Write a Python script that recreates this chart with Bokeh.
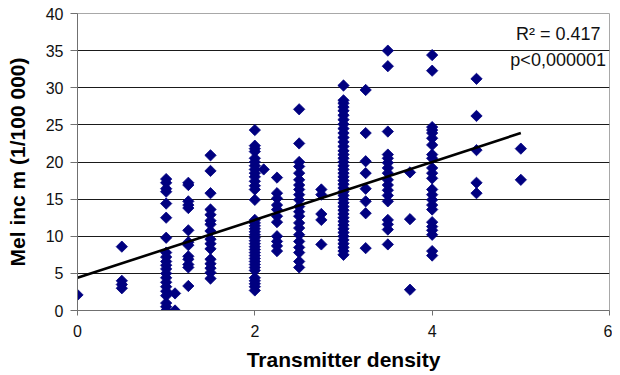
import math
from bokeh.plotting import figure
from bokeh.models import Label, FixedTicker, ColumnDataSource
from bokeh.embed import file_html
from bokeh.resources import INLINE

# ---- data ----
inc_at_0_00 = [2.1]
inc_at_0_50 = [8.6, 4.0, 3.5, 3.0]
inc_at_1_00 = [17.7, 17.2, 16.4, 16.0, 14.4, 12.5, 9.8, 7.8, 7.2, 6.6, 6.1, 5.6, 5.0,
               4.4, 3.8, 3.2, 2.6, 2.0, 1.0, 0.5, 0.0]
inc_at_1_10 = [2.3, 0.0]
inc_at_1_25 = [17.2, 16.9, 14.7, 14.2, 13.8, 10.8, 9.2, 8.8, 7.3, 6.9, 6.2, 5.8, 3.3]
inc_at_1_50 = [20.9, 18.8, 15.8, 13.6, 12.9, 12.1, 11.6, 10.7, 9.6, 9.0, 8.3, 6.9, 6.3,
               5.7, 5.1, 4.3]
inc_at_2_00 = [24.3, 22.2, 21.8, 21.4, 20.5, 20.0, 19.5, 19.0, 18.5, 18.0, 17.4, 16.8,
               16.3, 14.9, 12.2, 11.8, 11.4, 11.0, 10.6, 10.2, 9.8, 9.4, 9.0, 8.6, 8.2,
               7.8, 7.4, 7.0, 6.6, 6.2, 5.8, 5.4, 4.4, 4.0, 3.6, 3.2, 2.7]
inc_at_2_10 = [19.0]
inc_at_2_25 = [17.9, 15.8, 15.1, 14.2, 13.6, 12.7, 11.9, 10.0, 9.3, 8.7, 8.0]
inc_at_2_50 = [27.1, 22.5, 20.0, 19.4, 18.5, 17.6, 16.9, 16.3, 15.6, 14.9, 14.0, 13.3,
               12.7, 11.8, 11.1, 10.2, 9.3, 8.5, 7.8, 6.6, 5.8]
inc_at_2_75 = [16.3, 15.6, 13.0, 12.2, 8.9]
inc_at_3_00 = [30.3, 28.3, 27.9, 27.4, 26.9, 26.3, 25.7, 25.1, 24.5, 23.9, 23.3, 22.7,
               22.1, 21.5, 21.0, 20.5, 20.0, 19.5, 19.0, 18.5, 18.0, 17.5, 17.0, 16.5,
               16.0, 15.5, 15.0, 14.5, 14.0, 13.5, 13.0, 12.5, 12.0, 11.5, 11.0, 10.5,
               10.0, 9.5, 9.0, 8.5, 8.0, 7.5]
inc_at_3_25 = [29.7, 23.9, 20.1, 18.5, 16.4, 14.7, 13.1, 8.4]
inc_at_3_50 = [35.0, 32.9, 24.1, 21.0, 20.5, 19.9, 19.2, 18.5, 17.6, 16.9, 16.2, 15.5,
               14.7, 12.2, 11.6, 10.9, 8.9]
inc_at_3_75 = [18.6, 12.3, 2.8]
inc_at_4_00 = [34.4, 32.3, 24.7, 24.3, 23.9, 23.2, 22.3, 21.0, 20.5, 19.2, 18.5, 17.8,
               16.3, 15.6, 14.9, 14.2, 13.6, 11.9, 11.3, 10.8, 10.2, 8.0, 7.4]
inc_at_4_50 = [31.2, 26.2, 21.6, 17.2, 15.8]
inc_at_5_00 = [21.8, 17.6]

density_levels = [0.0, 0.5, 1.0, 1.1, 1.25, 1.5, 2.0, 2.1, 2.25, 2.5, 2.75, 3.0, 3.25,
                  3.5, 3.75, 4.0, 4.5, 5.0]
incidence_by_level = [inc_at_0_00, inc_at_0_50, inc_at_1_00, inc_at_1_10, inc_at_1_25,
                      inc_at_1_50, inc_at_2_00, inc_at_2_10, inc_at_2_25, inc_at_2_50,
                      inc_at_2_75, inc_at_3_00, inc_at_3_25, inc_at_3_50, inc_at_3_75,
                      inc_at_4_00, inc_at_4_50, inc_at_5_00]

trend_intercept = 4.4
trend_slope = 3.9
trend_x = [0.0, 5.0]

x_ticks = [0, 2, 4, 6]
y_ticks = [0, 5, 10, 15, 20, 25, 30, 35, 40]

r2_text = "R\u00b2 = 0.417"
p_text = "p<0,000001"

# ---- build ----
pts_x, pts_y = [], []
for lv, vals in zip(density_levels, incidence_by_level):
    for v in vals:
        pts_x.append(lv)
        pts_y.append(v)
src = ColumnDataSource(dict(x=pts_x, y=pts_y))

FONT = "Liberation Sans"

p = figure(width=612, height=373, x_range=(0, 6), y_range=(0, 40),
           output_backend="svg", toolbar_location=None,
           min_border_left=77, min_border_right=3, min_border_top=13,
           min_border_bottom=62)
p.outline_line_color = "#a8a8a8"
p.outline_line_width = 1
p.background_fill_color = "white"
p.border_fill_color = "white"

p.xgrid.grid_line_color = None
p.ygrid.ticker = FixedTicker(ticks=y_ticks)
p.ygrid.grid_line_color = "#1a1a1a"
p.ygrid.grid_line_width = 1

p.xaxis.ticker = FixedTicker(ticks=x_ticks)
p.yaxis.ticker = FixedTicker(ticks=y_ticks)
for ax in (p.xaxis, p.yaxis):
    ax.axis_line_color = "#707070"
    ax.major_tick_line_color = "#707070"
    ax.minor_tick_line_color = None
    ax.major_tick_in = 0
    ax.major_label_text_font = FONT
    ax.major_label_text_font_size = "16px"
    ax.major_label_text_color = "#111111"
    ax.axis_label_text_font = FONT
    ax.axis_label_text_font_size = "21px"
    ax.axis_label_text_font_style = "bold"
    ax.axis_label_text_color = "#000000"

p.xaxis.major_tick_out = 5
p.xaxis.major_label_standoff = 9
p.xaxis.axis_label_standoff = 8
p.xaxis.axis_label = "Transmitter density"

p.yaxis.major_tick_out = 7
p.yaxis.major_label_standoff = 7
p.yaxis.axis_label_standoff = 14
p.yaxis.axis_label = "Mel inc m (1/100 000)"

p.scatter("x", "y", source=src, marker="square", size=8, angle=math.pi / 4,
          fill_color="#000080", line_color="#000080", line_width=0.8)

trend_y = [trend_intercept + trend_slope * t for t in trend_x]
p.line(trend_x, trend_y, line_color="black", line_width=2.6)

p.add_layout(Label(x=5.9, y=37.3, text=r2_text, text_align="right",
                   text_baseline="middle", text_font=FONT,
                   text_font_size="18px", text_color="#111111"))
p.add_layout(Label(x=5.96, y=33.8, text=p_text, text_align="right",
                   text_baseline="middle", text_font=FONT,
                   text_font_size="18px", text_color="#111111"))

open("out.html", "w").write(file_html(p, INLINE))
